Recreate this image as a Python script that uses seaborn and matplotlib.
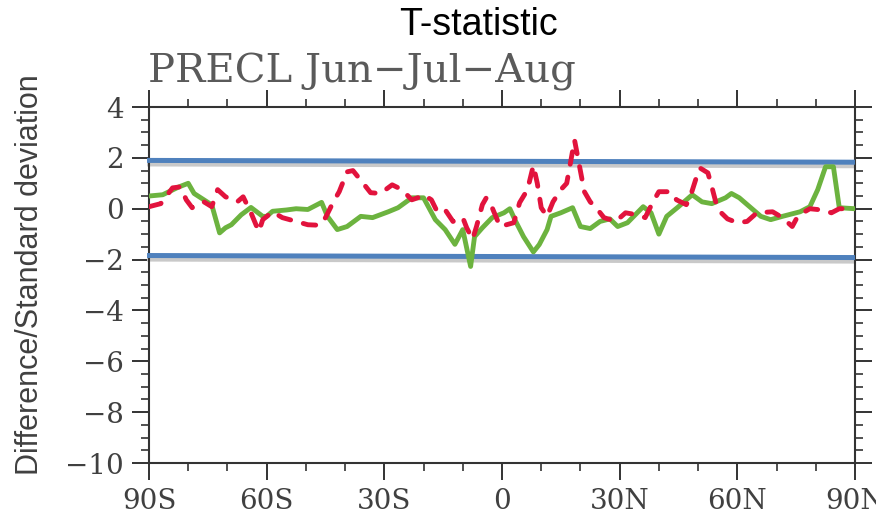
import matplotlib
matplotlib.use("Agg")
import matplotlib.pyplot as plt
from matplotlib.ticker import MultipleLocator, FixedLocator
import seaborn as sns
import pandas as pd

# Zonal-mean T-statistic (difference / standard deviation) by latitude
green_lat = [-90, -86.5, -82.5, -80, -78.5, -76, -74, -72, -70.5, -69, -66.5, -64,
             -61, -60, -58.5, -55, -52.5, -49.5, -46, -44.5, -42, -39.5, -36, -33,
             -29, -26.5, -23, -20, -17, -14.5, -12, -10, -8, -7, -5, -2.5, 0.5, 2,
             3.5, 5.5, 8, 9.5, 11.5, 12.5, 15, 18, 20, 22.5, 25, 27.5, 29.5, 32, 36,
             38, 40, 42, 45, 48.5, 51, 53.5, 57, 58.5, 60.5, 66, 68.5, 71.5, 76,
             78.5, 80.5, 82.5, 84.5, 86, 90]
green_val = [0.5, 0.55, 0.85, 1.0, 0.6, 0.35, 0.15, -0.95, -0.75, -0.63, -0.24, 0.05,
             -0.3, -0.3, -0.1, -0.05, 0.0, -0.03, 0.25, -0.3, -0.82, -0.7, -0.3, -0.35,
             -0.12, 0.04, 0.43, 0.43, -0.43, -0.82, -1.4, -0.82, -2.27, -1.1, -0.75,
             -0.35, -0.16, 0.0, -0.5, -1.1, -1.7, -1.41, -0.82, -0.3, -0.16, 0.04,
             -0.7, -0.78, -0.5, -0.4, -0.7, -0.55, 0.08, -0.16, -1.0, -0.3, 0.08,
             0.55, 0.27, 0.2, 0.43, 0.6, 0.43, -0.3, -0.43, -0.3, -0.12, 0.08, 0.75,
             1.65, 1.65, 0.04, 0.0]

red_lat = [-90, -87, -84, -82, -80.5, -79, -76, -74, -72.5, -70.5, -67.5, -66, -64,
           -62, -61, -58.5, -56, -52.5, -49.5, -46.5, -45, -43, -41.5, -39.5, -38,
           -35.5, -33.5, -31, -28, -25.5, -23, -21.5, -20, -18, -16.5, -14.5, -12.5,
           -10, -9, -7.5, -6.5, -5, -4, -2.5, -0.5, 3, 4.5, 6.5, 8, 9, 10, 11.5, 13,
           15, 16.5, 17.5, 18.5, 21, 22.5, 24, 26, 29, 31.5, 34.5, 36.5, 38.5, 40,
           43, 44.5, 47, 48, 49.5, 50.5, 52.5, 53.5, 54.5, 55.5, 57.5, 60, 62.5, 65,
           69, 71.5, 74, 75.5, 78.5, 81, 84, 86, 90]
red_val = [0.08, 0.2, 0.82, 0.86, 0.35, 0.04, 0.27, 0.08, 0.75, 0.47, 0.27, 0.47, -0.16,
           -0.9, -0.43, -0.12, -0.35, -0.5, -0.63, -0.65, -0.35, 0.27, 0.67, 1.45, 1.5,
           1.02, 0.63, 0.6, 0.94, 0.75, 0.35, 0.43, 0.55, 0.35, -0.12, -0.04, -0.5,
           -0.35, -0.75, -1.2, -0.7, 0.16, 0.43, 0.04, -0.7, -0.55, 0.24, 0.75, 1.7,
           1.0, 0.04, -0.3, 0.27, 0.75, 1.0, 1.84, 2.7, 0.67, 0.27, 0.04, -0.35, -0.5,
           -0.16, -0.24, -0.35, 0.27, 0.67, 0.67, 0.35, 0.16, 0.47, 1.2, 1.6, 1.41,
           0.86, 0.27, -0.1, -0.4, -0.55, -0.5, -0.16, -0.12, -0.35, -0.7, -0.27, 0.0,
           -0.04, -0.16, 0.0, 0.0]

# Significance thresholds
thresh_lat = [-90.5, 90]
upper_val = [1.9, 1.83]
lower_val = [-1.84, -1.92]

xtick_pos = [-90, -60, -30, 0, 30, 60, 90]
xtick_labels = ["90S", "60S", "30S", "0", "30N", "60N", "90N"]
ytick_pos = [4, 2, 0, -2, -4, -6, -8, -10]

sns.set_style("white")
plt.rcParams["axes.unicode_minus"] = True

fig = plt.figure(figsize=(8.76, 5.2), dpi=100)
ax = fig.add_axes([0.1701, 0.1096, 0.8059, 0.6846])

df_green = pd.DataFrame({"lat": green_lat, "val": green_val})
df_red = pd.DataFrame({"lat": red_lat, "val": red_val})
df_up = pd.DataFrame({"lat": thresh_lat, "val": upper_val})
df_lo = pd.DataFrame({"lat": thresh_lat, "val": lower_val})
df_up_sh = pd.DataFrame({"lat": thresh_lat, "val": [v - 0.14 for v in upper_val]})
df_lo_sh = pd.DataFrame({"lat": thresh_lat, "val": [v - 0.14 for v in lower_val]})

# soft shadow under the threshold bars
for d in (df_up_sh, df_lo_sh):
    sns.lineplot(data=d, x="lat", y="val", ax=ax, color="#c9c9c9", lw=3.6,
                 zorder=2, clip_on=False, solid_capstyle="butt")
for d in (df_up, df_lo):
    sns.lineplot(data=d, x="lat", y="val", ax=ax, color="#4f81bd", lw=3.6,
                 zorder=3, clip_on=False, solid_capstyle="butt")

sns.lineplot(data=df_green, x="lat", y="val", ax=ax, color="#6cb33f", lw=3.5,
             zorder=4, sort=False)
red_line = sns.lineplot(data=df_red, x="lat", y="val", ax=ax, color="#e2133d",
                        lw=3.5, zorder=5, sort=False).lines[-1]
red_line.set_dashes((2.6, 2.7))
red_line.set_dash_capstyle("round")

ax.set_xlim(-90, 90)
ax.set_ylim(-10, 4)
ax.set_xlabel("")
ax.set_ylabel("")

ax.xaxis.set_major_locator(FixedLocator(xtick_pos))
ax.set_xticklabels(xtick_labels)
ax.xaxis.set_minor_locator(MultipleLocator(10))
ax.yaxis.set_major_locator(FixedLocator(ytick_pos))
ax.yaxis.set_minor_locator(MultipleLocator(0.5))
ax.set_yticklabels([f"\u2212{abs(v)}" if v < 0 else str(v) for v in ytick_pos])

tick_col = "#333333"
ax.tick_params(which="major", direction="out", length=12, width=1.4,
               color=tick_col, top=True, right=True, bottom=True, left=True,
               labelsize=20, labelcolor="#404040", pad=6)
ax.tick_params(which="minor", direction="out", length=6, width=1.2,
               color=tick_col, top=True, right=True, bottom=True, left=True)
for lab in ax.get_xticklabels() + ax.get_yticklabels():
    lab.set_fontfamily("DejaVu Serif")
for sp in ax.spines.values():
    sp.set_visible(True)
    sp.set_color(tick_col)
    sp.set_linewidth(1.5)

fig.text(0.5457, 0.952, "T-statistic", ha="center", va="center",
         fontsize=27, family="Liberation Sans", color="black")
fig.text(0.169, 0.842, "PRECL Jun\u2212Jul\u2212Aug", ha="left", va="baseline",
         fontsize=29, family="DejaVu Serif", color="#5a5a5a")
fig.text(0.034, 0.471, "Difference/Standard deviation", rotation=90,
         ha="center", va="center", fontsize=22, family="Liberation Sans",
         color="#404040")

fig.savefig("out.png", dpi=100)
